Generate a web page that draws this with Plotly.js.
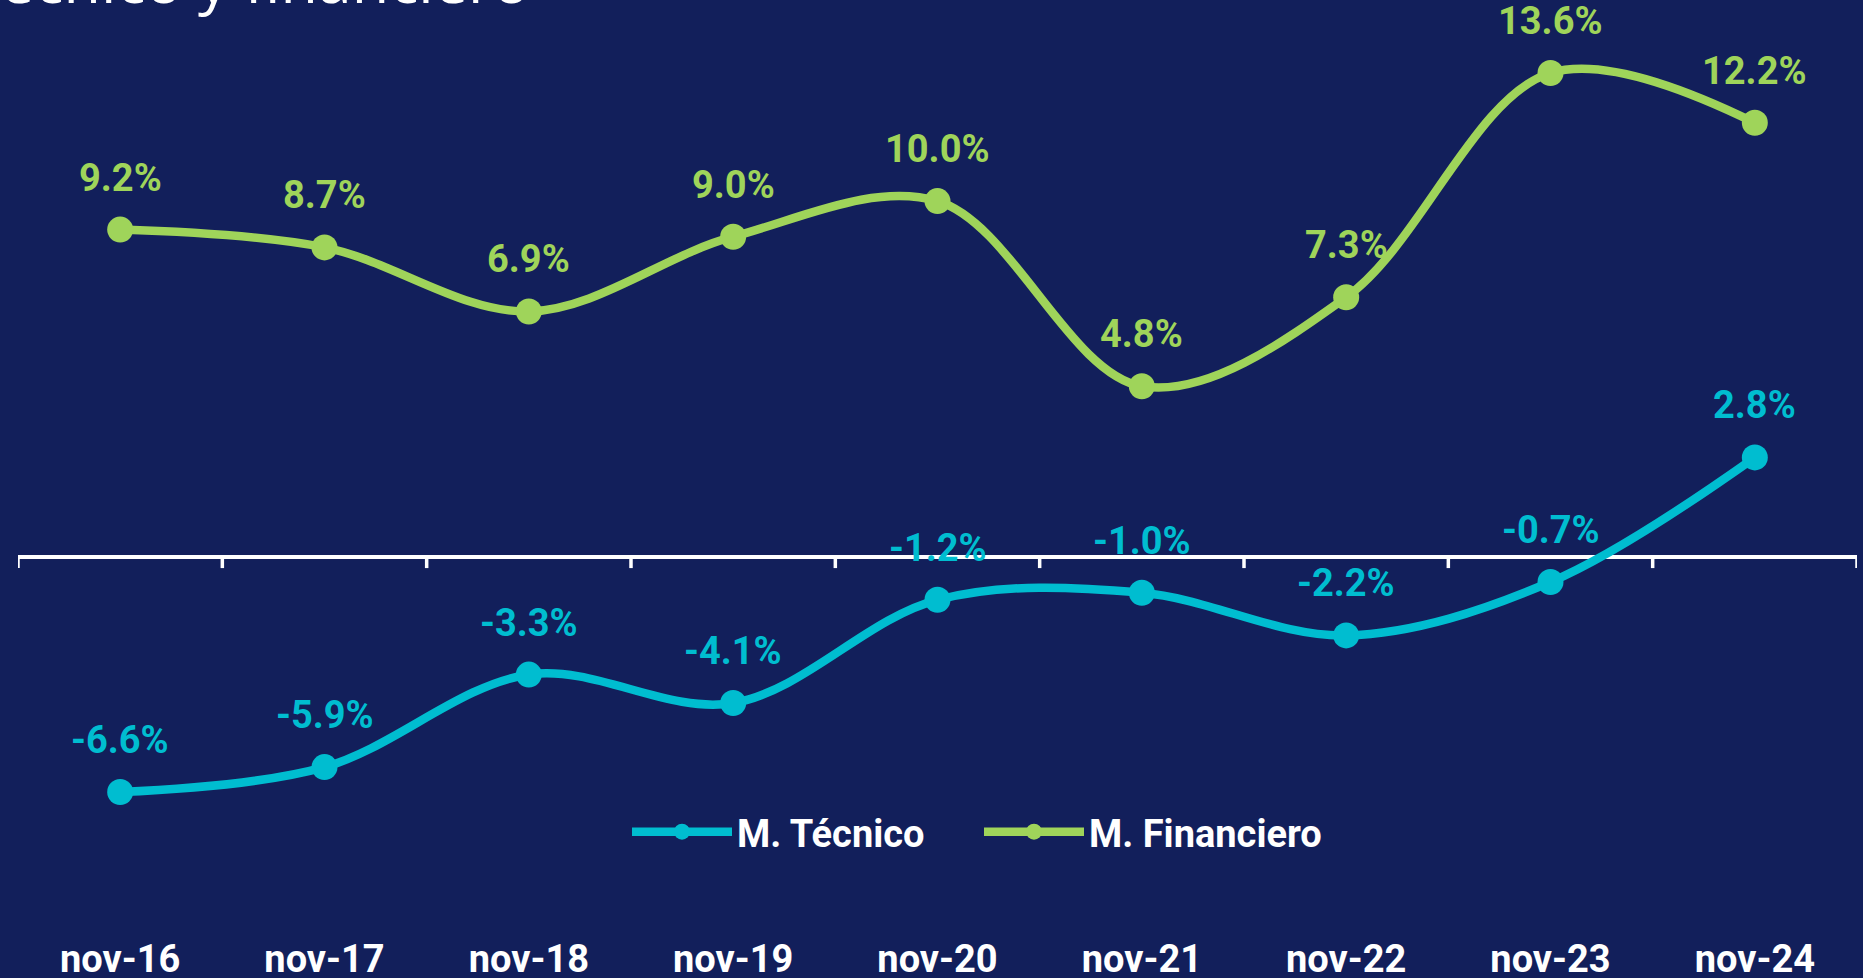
<!DOCTYPE html>
<html>
<head>
<meta charset="utf-8">
<script src="https://cdn.plot.ly/plotly-3.0.1.min.js"></script>
<style>
  html, body { margin: 0; padding: 0; background: #121F5B; }
  #chart { width: 1863px; height: 978px; }
</style>
</head>
<body>
<div id="chart"></div>
<script>
// ---- Data ----
const categories = ['nov-16', 'nov-17', 'nov-18', 'nov-19', 'nov-20', 'nov-21', 'nov-22', 'nov-23', 'nov-24'];
const tecnico = [-6.6, -5.9, -3.3, -4.1, -1.2, -1.0, -2.2, -0.7, 2.8];
const financiero = [9.2, 8.7, 6.9, 9.0, 10.0, 4.8, 7.3, 13.6, 12.2];
const seriesNames = ['M. Técnico', 'M. Financiero'];
const titleText = 'Margen técnico y financiero';

// ---- Styles ----
const BG = '#121F5B';
const TEAL = '#00BDD0';
const GREEN = '#9FD45A';
const FONT = 'Roboto, Arial, sans-serif';

const W = 1863, H = 978;
const margin = {l: 18, r: 6, t: 0, b: 45};
const plotW = W - margin.l - margin.r;
const plotH = H - margin.t - margin.b;
const yRange = [-10.56, 15.65];

function lineTrace(name, values, color) {
  return {
    type: 'scatter',
    mode: 'lines+markers',
    name: name,
    x: categories,
    y: values,
    line: {color: color, width: 8.5, shape: 'spline', smoothing: 1},
    marker: {color: color, size: 26},
    hoverinfo: 'skip'
  };
}

const traces = [
  lineTrace(seriesNames[0], tecnico, TEAL),
  lineTrace(seriesNames[1], financiero, GREEN)
];

const annotations = [];
[[tecnico, TEAL], [financiero, GREEN]].forEach(([vals, color]) => {
  vals.forEach((v, i) => {
    annotations.push({
      x: categories[i], y: v, xref: 'x', yref: 'y',
      text: v.toFixed(1) + '%',
      showarrow: false, yshift: 52,
      font: {family: FONT, size: 38, color: color, weight: 'bold'}
    });
  });
});

// cut-off title at the very top
annotations.push({
  xref: 'paper', yref: 'paper',
  x: (532 - margin.l) / plotW, y: 1 - 23 / plotH,
  xanchor: 'right', yanchor: 'bottom',
  text: titleText, showarrow: false,
  font: {family: '"Open Sans", sans-serif', size: 61, color: '#FFFFFF'}
});

// category-boundary ticks on the zero line
const shapes = [];
for (let i = 0; i <= categories.length; i++) {
  shapes.push({
    type: 'line', xref: 'x', yref: 'y',
    x0: i - 0.5, x1: i - 0.5,
    ysizemode: 'pixel', yanchor: 0, y0: 1, y1: -11,
    line: {color: '#FFFFFF', width: 3.5}
  });
}

const layout = {
  width: W, height: H,
  paper_bgcolor: BG, plot_bgcolor: BG,
  margin: margin,
  showlegend: true,
  hovermode: false,
  xaxis: {
    type: 'category',
    range: [-0.5, categories.length - 0.5],
    showgrid: false, zeroline: false, showline: false, ticks: '',
    tickfont: {family: FONT, size: 38, color: '#FFFFFF', weight: 'bold'},
    automargin: false,
    fixedrange: true
  },
  yaxis: {
    range: yRange,
    showgrid: false, showticklabels: false, ticks: '',
    zeroline: true, zerolinecolor: '#FFFFFF', zerolinewidth: 4,
    automargin: false,
    fixedrange: true
  },
  legend: {
    orientation: 'h',
    x: (627 - margin.l) / plotW, xanchor: 'left',
    y: (H - margin.b - 832) / plotH, yanchor: 'middle',
    font: {family: FONT, size: 38, color: '#FFFFFF', weight: 'bold'},
    itemwidth: 100,
    entrywidth: 237, entrywidthmode: 'pixels',
    bgcolor: 'rgba(0,0,0,0)'
  },
  annotations: annotations,
  shapes: shapes
};

Plotly.newPlot('chart', traces, layout, {displayModeBar: false, staticPlot: true});
</script>
</body>
</html>
